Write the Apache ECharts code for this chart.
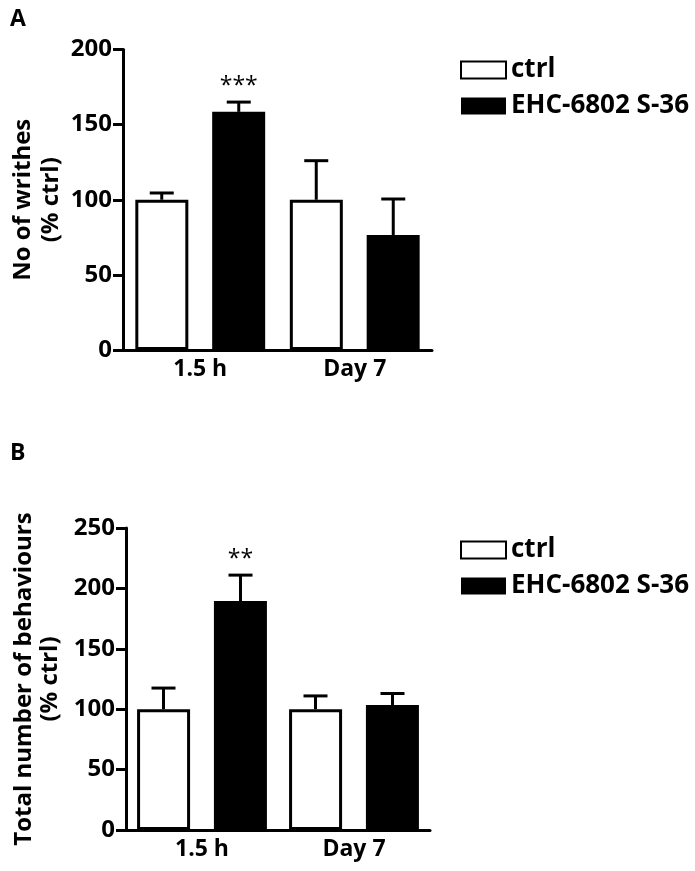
<!DOCTYPE html>
<html>
<head>
<meta charset="utf-8">
<script src="https://cdn.jsdelivr.net/npm/echarts@6/dist/echarts.min.js"></script>
<style>
  html, body { margin: 0; padding: 0; background: #fff; }
  #chart { width: 695px; height: 871px; }
</style>
</head>
<body>
<div id="chart"></div>
<script>
// categories and values
var categories = ['1.5 h', 'Day 7'];

// panel A: writhes (% ctrl)
var writhesCtrl = [100, 100];
var writhesCtrlErr = [4.5, 26];
var writhesDrug = [158.5, 76.5];
var writhesDrugErr = [6.5, 24];
var writhesSig = ['***', ''];

// panel B: total number of behaviours (% ctrl)
var behavCtrl = [100, 100];
var behavCtrlErr = [17.5, 11];
var behavDrug = [189.5, 103.5];
var behavDrugErr = [21.5, 9.5];
var behavSig = ['**', ''];

var FONT = '"Open Sans", "DejaVu Sans", sans-serif';
var BAR_W = 53;
var OFFSET = 38.5;

// error bar drawn upwards from the bar top, with optional stars above
function errSeries(name, means, errs, sig, offset, axisIdx) {
    var data = means.map(function (m, i) { return [i, m, m + errs[i]]; });
    return {
        type: 'custom',
        name: name + ' err',
        xAxisIndex: axisIdx,
        yAxisIndex: axisIdx,
        z: 5,
        silent: true,
        encode: { x: 0, y: [1, 2] },
        data: data,
        renderItem: function (params, api) {
            var c = api.value(0);
            var lo = api.coord([c, api.value(1)]);
            var hi = api.coord([c, api.value(2)]);
            var x = lo[0] + offset;
            var children = [
                { type: 'line', shape: { x1: x, y1: lo[1], x2: x, y2: hi[1] },
                  style: { stroke: '#000', lineWidth: 3 } },
                { type: 'line', shape: { x1: x - 12, y1: hi[1], x2: x + 12, y2: hi[1] },
                  style: { stroke: '#000', lineWidth: 3 } }
            ];
            var s = sig ? sig[params.dataIndex] : '';
            if (s) {
                children.push({
                    type: 'text',
                    style: { text: s, x: x, y: hi[1] - 16, align: 'center', verticalAlign: 'middle',
                             font: 'normal 23px ' + FONT, fill: '#000' }
                });
            }
            return { type: 'group', children: children };
        }
    };
}

function barSeries(name, values, axisIdx, white) {
    return {
        type: 'bar',
        name: name,
        xAxisIndex: axisIdx,
        yAxisIndex: axisIdx,
        barWidth: BAR_W,
        barGap: '45%',
        data: values,
        itemStyle: white
            ? { color: '#fff', borderColor: '#000', borderWidth: 3 }
            : { color: '#000', borderColor: '#000', borderWidth: 0 }
    };
}

function yAxis(idx, max, title, gap, lh) {
    return {
        type: 'value',
        gridIndex: idx,
        min: 0, max: max, interval: 50,
        name: title,
        nameLocation: 'middle',
        nameRotate: 90,
        nameGap: gap,
        nameTextStyle: { fontFamily: FONT, fontWeight: 'bold', fontSize: 24, color: '#000', lineHeight: lh, align: 'center' },
        axisLine: { show: true, lineStyle: { color: '#000', width: 3 } },
        axisTick: { show: true, length: 10, lineStyle: { color: '#000', width: 3 } },
        axisLabel: { margin: 11, fontFamily: FONT, fontWeight: 'bold', fontSize: 24, color: '#000' },
        splitLine: { show: false }
    };
}

function xAxis(idx) {
    return {
        type: 'category',
        gridIndex: idx,
        data: categories,
        axisLine: { lineStyle: { color: '#000', width: 3 } },
        axisTick: { show: false },
        axisLabel: { margin: 8, fontFamily: FONT, fontWeight: 'bold', fontSize: 23, color: '#000' }
    };
}

function legend(top) {
    return {
        orient: 'vertical',
        left: 460,
        top: top,
        padding: 0,
        itemGap: 10,
        itemWidth: 45,
        itemHeight: 17,
        icon: 'rect',
        selectedMode: false,
        data: ['ctrl', 'EHC-6802 S-36'],
        textStyle: { fontFamily: FONT, fontWeight: 'bold', fontSize: 26, color: '#000' }
    };
}

var option = {
    animation: false,
    backgroundColor: '#fff',
    title: [
        { text: 'A', left: 5, top: 3, textStyle: { fontFamily: FONT, fontWeight: 'bold', fontSize: 23, color: '#000' } },
        { text: 'B', left: 5, top: 437, textStyle: { fontFamily: FONT, fontWeight: 'bold', fontSize: 23, color: '#000' } }
    ],
    legend: [legend(57), legend(537)],
    grid: [
        { left: 123, top: 49.5, right: 263, bottom: 521 },
        { left: 126, top: 528, right: 265, bottom: 41 }
    ],
    xAxis: [xAxis(0), xAxis(1)],
    yAxis: [
        yAxis(0, 200, 'No of writhes\n(% ctrl)', 58, 28),
        yAxis(1, 250, 'Total number of behaviours\n(% ctrl)', 63, 26)
    ],
    series: [
        barSeries('ctrl', writhesCtrl, 0, true),
        barSeries('EHC-6802 S-36', writhesDrug, 0, false),
        errSeries('ctrl', writhesCtrl, writhesCtrlErr, null, -OFFSET, 0),
        errSeries('EHC-6802 S-36', writhesDrug, writhesDrugErr, writhesSig, OFFSET, 0),
        barSeries('ctrl', behavCtrl, 1, true),
        barSeries('EHC-6802 S-36', behavDrug, 1, false),
        errSeries('ctrl', behavCtrl, behavCtrlErr, null, -OFFSET, 1),
        errSeries('EHC-6802 S-36', behavDrug, behavDrugErr, behavSig, OFFSET, 1)
    ]
};

var myChart = echarts.init(document.getElementById('chart'));
myChart.setOption(option);
</script>
</body>
</html>
